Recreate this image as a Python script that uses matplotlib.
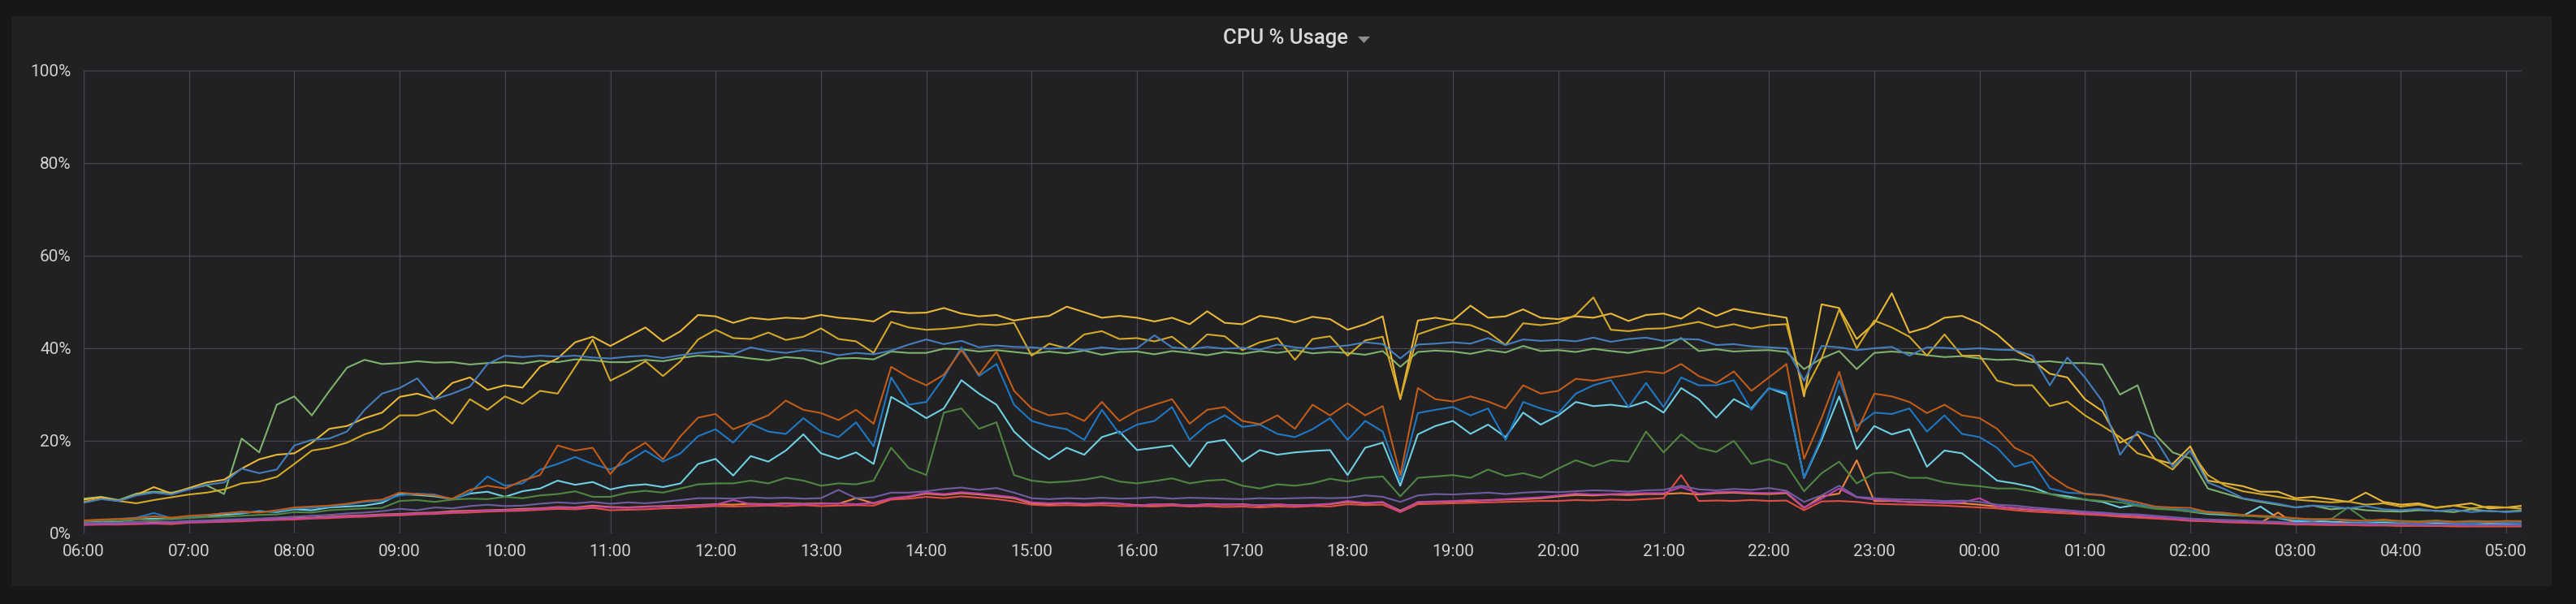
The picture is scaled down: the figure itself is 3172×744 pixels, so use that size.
import matplotlib
matplotlib.use('Agg')
import matplotlib.pyplot as plt
import numpy as np
from matplotlib.patches import Rectangle, Polygon

# CPU % per host, sampled every 10 min from 06:00 to 05:10 (one row = one hour)
yellow = [
    7.3, 7.8, 7.0, 8.3, 10.0, 8.6,
    9.8, 11.0, 11.6, 14.0, 16.0, 17.0,
    17.3, 19.6, 22.6, 23.2, 24.9, 26.1,
    29.5, 30.2, 29.0, 32.5, 33.7, 31.0,
    32.0, 31.5, 36.0, 37.8, 41.3, 42.5,
    40.5, 42.5, 44.5, 41.5, 43.7, 47.2,
    46.9, 45.5, 46.6, 46.2, 46.6, 46.4,
    47.2, 46.6, 46.3, 45.8, 48.0, 47.6,
    47.7, 48.7, 47.5, 46.9, 47.2, 46.0,
    46.6, 47.0, 49.0, 47.8, 46.6, 47.0,
    46.6, 45.8, 46.6, 45.2, 48.0, 45.5,
    45.2, 47.0, 46.5, 45.6, 46.8, 46.3,
    44.0, 45.2, 46.9, 29.0, 46.0, 46.6,
    46.0, 49.2, 46.6, 46.9, 48.4, 46.6,
    46.3, 46.9, 46.6, 47.5, 45.9, 47.2,
    47.5, 46.4, 48.7, 47.0, 48.5, 47.8,
    47.2, 46.6, 29.6, 49.5, 48.7, 42.0,
    45.4, 51.9, 43.4, 44.5, 46.6, 47.0,
    45.4, 43.0, 39.6, 37.5, 34.5, 33.7,
    29.0, 26.4, 19.6, 21.4, 16.0, 15.0,
    18.8, 11.4, 10.8, 10.2, 9.0, 9.0,
    7.6, 7.9, 7.4, 6.8, 8.8, 6.8,
    6.2, 6.5, 5.6, 6.0, 6.5, 5.4,
    5.6, 6.0,
]
dark_yellow = [
    6.8, 7.5, 7.0, 6.5, 7.2, 7.8,
    8.4, 8.8, 9.5, 10.8, 11.2, 12.2,
    15.0, 17.9, 18.5, 19.6, 21.4, 22.6,
    25.5, 25.5, 26.7, 23.7, 29.0, 26.7,
    29.6, 28.0, 30.8, 30.2, 36.0, 41.9,
    33.0, 34.9, 37.2, 34.0, 37.2, 41.9,
    44.0, 42.2, 42.0, 43.4, 41.8, 42.5,
    44.3, 42.0, 41.5, 39.0, 45.7, 44.5,
    44.0, 44.2, 44.6, 45.2, 45.0, 45.5,
    38.4, 41.0, 40.0, 43.0, 43.7, 42.0,
    42.2, 41.5, 42.5, 39.6, 43.0, 42.6,
    39.6, 41.3, 42.2, 37.5, 42.0, 42.6,
    38.4, 41.7, 42.5, 29.0, 43.0, 44.3,
    45.4, 45.0, 43.5, 40.7, 45.4, 45.0,
    45.5, 47.2, 51.0, 44.0, 43.7, 44.2,
    44.3, 45.0, 45.7, 44.5, 45.2, 44.3,
    45.0, 45.2, 30.5, 37.8, 48.4, 40.0,
    46.0, 44.5, 42.5, 38.4, 43.0, 38.4,
    38.4, 33.0, 32.0, 32.0, 27.5, 28.5,
    25.5, 23.2, 20.8, 17.3, 16.1, 13.8,
    17.9, 12.6, 10.3, 9.1, 8.5, 7.9,
    7.3, 7.0, 6.7, 6.9, 6.2, 6.5,
    5.8, 6.2, 5.5, 6.0, 5.4, 5.8,
    5.6, 5.3,
]
blue_top = [
    6.6, 7.4, 7.0, 8.2, 8.8, 8.4,
    9.5, 10.5, 11.0, 14.0, 13.0, 13.8,
    19.0, 20.2, 20.5, 22.0, 26.7, 30.2,
    31.4, 33.5, 29.0, 30.2, 31.7, 36.6,
    38.4, 38.1, 38.4, 38.2, 38.4, 38.0,
    37.8, 38.2, 38.4, 37.9, 38.5, 39.0,
    39.3, 38.7, 40.2, 39.4, 39.0, 39.6,
    39.3, 38.5, 39.0, 38.7, 39.5, 40.8,
    41.9, 40.9, 41.6, 40.2, 40.6, 40.3,
    40.2, 39.9, 40.1, 39.6, 40.2, 39.8,
    40.0, 42.8, 40.2, 39.8, 40.3, 39.9,
    40.1, 39.7, 40.8, 40.2, 39.9, 40.3,
    40.6, 41.3, 40.9, 37.8, 40.8, 41.0,
    41.3, 41.0, 42.2, 40.7, 41.9, 41.6,
    41.8, 41.5, 42.3, 41.4, 42.0, 42.3,
    41.6, 42.0, 41.9, 40.7, 40.9, 40.4,
    40.2, 40.0, 33.0, 40.5, 40.2, 39.6,
    40.0, 40.3, 38.4, 40.2, 40.1, 39.8,
    40.0, 39.7, 39.6, 38.4, 32.0, 38.0,
    33.7, 28.5, 17.0, 22.0, 20.5, 14.4,
    17.9, 11.0, 9.5, 7.6, 7.0, 6.4,
    5.6, 6.0, 5.8, 5.4, 5.9, 5.2,
    5.0, 5.3, 4.8, 5.1, 4.6, 4.9,
    4.6, 4.8,
]
green = [
    7.5, 7.9, 7.2, 8.6, 9.0, 8.8,
    9.6, 10.4, 8.5, 20.5, 17.5, 27.8,
    29.6, 25.5, 30.8, 35.8, 37.5, 36.6,
    36.8, 37.2, 36.9, 37.0, 36.5, 36.8,
    37.0, 36.7, 37.3, 37.0, 37.6, 37.4,
    37.0, 37.0, 37.5, 37.2, 37.9, 38.4,
    38.2, 38.3, 37.8, 37.4, 38.1, 37.8,
    36.6, 37.8, 37.9, 37.6, 39.3, 39.0,
    39.0, 39.9, 39.8, 39.3, 39.6, 39.2,
    38.8, 39.3, 38.9, 39.5, 38.6, 39.2,
    39.3, 38.7, 39.4, 39.0, 38.5, 39.2,
    38.8, 39.4, 39.0, 39.6, 38.9, 39.2,
    39.0, 38.6, 39.4, 36.0, 39.2, 39.5,
    39.3, 38.8, 39.6, 39.1, 40.5, 39.4,
    39.6, 39.2, 39.9, 39.4, 39.0, 39.7,
    40.2, 42.2, 39.4, 39.8, 39.3, 39.5,
    39.6, 39.2, 35.5, 37.8, 39.4, 35.5,
    39.0, 39.3, 39.0, 38.5, 38.1, 38.3,
    37.8, 37.5, 37.6, 37.0, 37.2, 36.8,
    36.8, 36.5, 30.0, 32.0, 21.4, 17.5,
    16.2, 9.7, 8.6, 7.5, 6.8, 6.2,
    5.6, 6.0, 5.2, 5.5, 5.0, 4.8,
    4.7, 5.0, 4.9, 4.6, 5.2, 4.8,
    4.7, 5.0,
]
dark_orange = [
    2.8, 3.0, 3.1, 3.3, 3.7, 3.4,
    3.8, 4.0, 4.3, 4.7, 4.5, 5.0,
    5.6, 5.8, 6.0, 6.4, 7.0, 7.3,
    8.8, 8.5, 8.2, 7.5, 9.4, 10.3,
    9.7, 11.4, 12.6, 19.0, 17.9, 18.5,
    12.8, 17.3, 19.6, 16.0, 21.0, 25.0,
    25.8, 22.5, 24.0, 25.5, 28.7, 26.7,
    26.0, 24.5, 26.7, 23.7, 36.0, 33.7,
    32.0, 34.3, 39.6, 34.3, 39.3, 30.8,
    27.0, 25.5, 26.0, 24.3, 28.4, 24.3,
    26.5, 27.8, 29.0, 23.7, 26.7, 27.3,
    24.3, 23.6, 25.5, 22.6, 27.8, 25.5,
    28.1, 25.5, 27.5, 12.6, 31.4, 29.0,
    28.5, 29.6, 28.5, 27.0, 32.0, 30.2,
    30.8, 33.4, 33.0, 33.7, 34.3, 35.0,
    34.6, 36.6, 34.0, 32.5, 35.0, 30.8,
    33.7, 36.6, 16.1, 24.9, 34.9, 22.0,
    30.2, 29.6, 28.4, 26.0, 27.8, 25.5,
    24.9, 22.6, 18.5, 16.7, 12.5, 10.0,
    8.5, 8.2, 7.5, 6.7, 5.8, 5.6,
    5.5, 4.6, 4.4, 4.0, 3.8, 3.6,
    3.3, 3.0, 3.1, 2.9, 2.7, 3.0,
    2.6, 2.4, 2.7, 2.5, 2.6, 2.5,
    2.7, 2.6,
]
blue = [
    2.7, 2.9, 3.1, 3.4, 4.4, 3.3,
    3.6, 3.9, 4.4, 4.5, 4.6, 4.8,
    5.4, 5.5, 5.8, 6.2, 6.8, 7.0,
    8.2, 8.6, 8.4, 7.3, 8.8, 12.3,
    10.3, 10.8, 13.8, 15.0, 16.5, 15.0,
    13.8, 15.5, 17.9, 15.5, 17.3, 21.0,
    22.5, 19.6, 23.7, 22.0, 21.5, 24.9,
    22.0, 20.8, 24.0, 18.8, 33.7, 27.8,
    28.4, 33.7, 40.2, 34.0, 36.6, 27.8,
    24.3, 23.2, 22.5, 20.2, 26.7, 21.5,
    23.5, 24.3, 27.3, 20.2, 23.5, 25.5,
    23.0, 23.5, 21.5, 20.8, 22.5, 24.9,
    20.2, 24.3, 22.0, 11.4, 26.0, 26.7,
    27.3, 25.5, 27.0, 20.2, 28.4, 27.0,
    26.0, 30.2, 32.0, 33.1, 27.3, 32.5,
    27.3, 33.7, 32.0, 32.0, 33.1, 26.7,
    31.4, 30.5, 12.0, 20.8, 33.1, 23.2,
    26.1, 25.8, 27.0, 22.0, 25.5, 21.5,
    20.8, 18.5, 14.4, 15.5, 9.7, 8.8,
    8.6, 8.3, 7.2, 6.2, 5.6, 5.4,
    5.0, 4.7, 4.4, 3.9, 3.6, 3.4,
    3.0, 2.8, 3.1, 2.6, 2.5, 2.7,
    2.4, 2.2, 2.5, 2.3, 2.2, 2.4,
    2.3, 2.2,
]
cyan = [
    2.5, 2.7, 2.6, 3.0, 3.2, 3.1,
    3.4, 3.7, 4.0, 4.3, 4.8, 4.6,
    5.2, 5.0, 5.6, 5.8, 6.0, 6.6,
    8.5, 8.3, 8.0, 7.4, 8.6, 9.0,
    7.9, 9.1, 9.7, 11.4, 10.5, 11.1,
    9.5, 10.3, 10.6, 10.0, 10.8, 15.0,
    16.1, 12.5, 16.7, 15.5, 17.9, 21.4,
    17.3, 16.1, 17.5, 15.0, 29.5, 27.3,
    24.9, 27.0, 33.1, 30.2, 27.8, 22.0,
    18.5, 16.0, 18.5, 17.0, 20.8, 22.0,
    18.0, 18.5, 19.0, 14.4, 19.6, 20.2,
    15.5, 18.0, 17.0, 17.5, 17.8, 18.0,
    12.6, 18.5, 19.6, 10.3, 21.4, 23.2,
    24.3, 21.5, 23.5, 20.8, 26.1, 23.5,
    25.5, 28.4, 27.5, 27.8, 27.3, 28.5,
    26.1, 31.4, 29.0, 25.0, 29.0, 27.0,
    31.4, 30.0, 12.0, 20.2, 29.6, 18.2,
    23.2, 21.4, 22.5, 14.4, 17.9, 17.3,
    14.4, 11.4, 10.8, 10.0, 8.5, 8.0,
    7.3, 6.8, 5.6, 6.2, 5.6, 5.2,
    4.7, 4.2, 4.0, 3.8, 5.8, 3.3,
    2.6, 2.7, 2.5, 2.4, 2.3, 2.4,
    2.3, 2.2, 2.3, 2.1, 2.2, 2.1,
    2.1, 2.2,
]
dark_green = [
    2.6, 2.8, 2.7, 3.0, 2.9, 3.2,
    3.3, 3.5, 3.6, 3.8, 4.0, 4.1,
    4.6, 4.5, 5.0, 5.2, 5.4, 5.5,
    7.0, 7.2, 6.8, 7.3, 7.5, 7.4,
    7.9, 7.6, 8.2, 8.5, 9.1, 7.9,
    7.9, 8.8, 9.2, 8.8, 9.7, 10.6,
    10.8, 10.8, 11.4, 10.8, 12.0, 11.4,
    10.3, 10.8, 10.6, 11.4, 18.5, 14.1,
    12.6, 26.1, 27.0, 22.6, 24.0, 12.6,
    11.4, 11.0, 11.2, 11.6, 12.3, 11.2,
    10.8, 11.3, 11.9, 10.8, 11.4, 11.6,
    10.3, 9.7, 10.6, 10.3, 10.8, 11.8,
    11.2, 12.0, 12.3, 8.0, 12.0, 12.3,
    12.6, 12.0, 13.8, 12.4, 13.0, 12.0,
    14.0, 15.8, 14.5, 15.8, 15.5, 22.0,
    17.5, 21.4, 18.5, 17.6, 20.0, 15.0,
    16.0, 14.8, 9.1, 13.0, 15.5, 10.8,
    13.0, 13.2, 12.0, 12.0, 11.0, 10.5,
    10.2, 9.7, 9.7, 9.1, 8.5, 7.6,
    7.3, 7.0, 6.7, 5.9, 5.3, 5.1,
    4.7, 4.4, 4.2, 3.8, 3.6, 3.5,
    3.2, 3.1, 3.0, 5.6, 2.9, 2.7,
    2.7, 2.6, 2.8, 2.5, 2.7, 2.6,
    2.6, 2.7,
]
purple = [
    2.2, 2.3, 2.3, 2.5, 2.6, 2.5,
    2.7, 2.8, 3.0, 3.1, 3.2, 3.4,
    3.6, 3.8, 4.0, 4.3, 4.5, 4.8,
    5.3, 5.0, 5.6, 5.4, 5.9, 6.2,
    5.9, 6.0, 6.4, 6.7, 6.5, 6.8,
    6.4, 6.7, 6.5, 6.8, 7.2, 7.6,
    7.6, 7.5, 7.8, 7.6, 7.7, 7.5,
    7.6, 9.4, 7.6, 7.8, 8.8, 8.8,
    9.1, 9.6, 9.9, 9.4, 9.8, 8.8,
    7.6, 7.4, 7.6, 7.5, 7.7, 7.5,
    7.6, 7.8, 7.5, 7.7, 7.6, 7.5,
    7.4, 7.6, 7.5, 7.6, 7.7, 7.6,
    7.7, 8.2, 7.9, 6.8, 8.2, 8.5,
    8.4, 8.6, 8.8, 8.5, 8.8, 9.0,
    8.9, 9.1, 9.3, 9.2, 9.0, 9.3,
    9.4, 10.3, 9.5, 9.3, 9.6, 9.4,
    9.8, 9.2, 6.8, 8.2, 10.3, 7.9,
    7.6, 7.4, 7.3, 7.2, 7.0, 7.1,
    6.8, 6.2, 6.0, 5.6, 5.3, 5.0,
    4.7, 4.5, 4.2, 4.1, 3.8, 3.5,
    3.2, 3.0, 2.9, 2.8, 2.6, 2.5,
    2.3, 2.3, 2.2, 2.1, 2.1, 2.0,
    2.0, 1.9, 1.9, 1.9, 1.8, 1.8,
    1.8, 1.8,
]
pink = [
    1.9, 2.0, 2.0, 2.2, 2.1, 2.3,
    2.4, 2.5, 2.6, 2.8, 2.9, 3.0,
    3.2, 3.3, 3.5, 3.7, 3.8, 4.0,
    4.1, 4.3, 4.4, 4.6, 4.8, 4.9,
    5.0, 5.1, 5.3, 5.6, 5.5, 5.8,
    5.6, 5.5, 5.7, 5.8, 5.9, 6.0,
    6.2, 7.2, 6.3, 6.2, 6.4, 6.3,
    6.4, 6.5, 6.3, 6.6, 7.6, 8.0,
    8.8, 8.5, 8.9, 8.6, 8.2, 7.8,
    6.7, 6.5, 6.6, 6.4, 6.6, 6.5,
    6.0, 6.3, 6.2, 6.1, 6.2, 6.3,
    6.2, 6.1, 6.3, 6.0, 6.2, 6.4,
    7.0, 6.6, 6.8, 4.7, 6.8, 6.9,
    7.0, 7.2, 7.1, 7.4, 7.6, 7.8,
    8.2, 8.6, 8.4, 8.5, 8.6, 8.7,
    8.7, 10.0, 8.6, 8.9, 9.0, 8.8,
    8.7, 8.9, 5.6, 7.5, 9.7, 7.8,
    7.3, 7.1, 6.7, 6.8, 6.6, 6.7,
    7.6, 5.8, 5.5, 5.2, 5.0, 4.8,
    4.4, 4.2, 4.0, 3.8, 3.5, 3.2,
    2.9, 2.8, 2.6, 2.5, 2.4, 2.3,
    2.1, 2.1, 2.0, 2.0, 1.9, 1.9,
    1.9, 1.8, 1.8, 1.8, 1.7, 1.8,
    1.8, 1.7,
]
orange = [
    2.0, 2.1, 2.2, 2.1, 2.3, 2.4,
    2.5, 2.6, 2.7, 2.9, 3.0, 3.1,
    3.3, 3.4, 3.6, 3.8, 3.9, 4.1,
    4.2, 4.4, 4.5, 4.8, 4.9, 5.0,
    5.1, 5.3, 5.4, 5.7, 5.6, 6.0,
    5.7, 5.6, 5.8, 5.9, 6.0, 6.1,
    6.3, 6.2, 6.4, 6.3, 6.5, 6.4,
    6.5, 6.4, 7.6, 6.5, 7.5, 7.9,
    8.6, 8.3, 8.7, 8.4, 8.0, 7.6,
    6.5, 6.3, 6.5, 6.3, 6.5, 6.4,
    6.1, 6.2, 6.3, 6.0, 6.3, 6.2,
    6.3, 6.0, 6.2, 6.1, 6.1, 6.3,
    6.8, 6.5, 6.7, 4.9, 6.7, 6.8,
    6.9, 7.0, 7.2, 7.3, 7.4, 7.6,
    8.0, 8.3, 8.2, 8.4, 8.3, 8.5,
    8.5, 8.7, 8.4, 8.7, 8.8, 8.6,
    8.5, 8.7, 5.5, 8.0, 8.6, 15.8,
    7.0, 7.0, 6.8, 6.7, 6.6, 6.5,
    6.2, 5.8, 5.4, 5.1, 4.9, 4.7,
    4.3, 4.1, 3.9, 3.7, 3.4, 3.1,
    2.8, 2.7, 2.5, 2.4, 2.3, 4.5,
    2.0, 1.9, 1.9, 2.6, 1.8, 1.8,
    1.7, 1.8, 1.7, 1.7, 1.6, 1.7,
    1.7, 1.6,
]
red = [
    1.8, 1.9, 1.9, 2.0, 2.1, 2.0,
    2.3, 2.4, 2.5, 2.6, 2.8, 2.9,
    3.0, 3.2, 3.3, 3.5, 3.6, 3.8,
    3.9, 4.1, 4.2, 4.4, 4.5, 4.7,
    4.8, 4.9, 5.1, 5.3, 5.2, 5.5,
    5.0, 5.1, 5.2, 5.4, 5.5, 5.7,
    5.9, 5.8, 5.9, 6.0, 5.9, 6.1,
    5.9, 6.0, 6.1, 6.0, 7.3, 7.5,
    7.9, 7.6, 8.0, 7.7, 7.4, 6.9,
    6.2, 6.0, 6.1, 6.0, 6.1, 5.9,
    5.9, 5.8, 6.0, 5.8, 5.9, 5.7,
    5.8, 5.6, 5.8, 5.7, 5.9, 5.8,
    6.3, 6.1, 6.2, 4.6, 6.3, 6.4,
    6.5, 6.6, 6.7, 6.8, 6.9, 7.0,
    7.0, 7.2, 7.1, 7.3, 7.2, 7.4,
    7.6, 12.6, 7.0, 7.1, 7.0, 7.2,
    7.0, 7.1, 5.0, 6.9, 7.0, 6.8,
    6.4, 6.3, 6.2, 6.1, 6.0, 5.8,
    5.6, 5.4, 5.0, 4.7, 4.5, 4.3,
    4.1, 3.9, 3.6, 3.4, 3.2, 3.0,
    2.7, 2.6, 2.4, 2.3, 2.2, 2.1,
    1.9, 1.9, 1.8, 1.8, 1.7, 1.7,
    1.6, 1.6, 1.6, 1.5, 1.5, 1.5,
    1.5, 1.5,
]

# drawn in this order, later ones on top
series = [
    (green, '#7EB26D'),
    (yellow, '#EAB839'),
    (cyan, '#6ED0E0'),
    (orange, '#EF843C'),
    (red, '#E24D42'),
    (blue, '#1F78C1'),
    (pink, '#BA43A9'),
    (purple, '#705DA0'),
    (dark_green, '#508642'),
    (dark_yellow, '#D5A928'),
    (blue_top, '#447EBC'),
    (dark_orange, '#C15C17'),
]

hour_labels = ['06:00', '07:00', '08:00', '09:00', '10:00', '11:00', '12:00',
               '13:00', '14:00', '15:00', '16:00', '17:00', '18:00', '19:00',
               '20:00', '21:00', '22:00', '23:00', '00:00', '01:00', '02:00',
               '03:00', '04:00', '05:00']
y_ticks = [0, 20, 40, 60, 80, 100]

W, H = 3172, 744
plt.rcParams['font.family'] = ['Roboto', 'DejaVu Sans']

fig = plt.figure(figsize=(W / 100, H / 100), dpi=100, facecolor='#161719')

# panel background (behind the axes)
fig.patches.append(Rectangle((14 / W, 1 - 722 / H), (3142 - 14) / W, (722 - 20) / H,
                             transform=fig.transFigure, facecolor='#212124',
                             edgecolor='none', zorder=-10))

ax = fig.add_axes([103 / W, 87 / H, (3105 - 103) / W, (657 - 87) / H])
ax.set_facecolor('none')

for values, color in series:
    x = np.arange(len(values)) / 6.0
    ax.plot(x, values, color=color, lw=1.5, solid_joinstyle='round')

ax.set_xlim(0, (3105 - 103) / 129.7)
ax.set_ylim(0, 100)
ax.set_xticks(np.arange(len(hour_labels)))
ax.set_xticklabels(hour_labels)
ax.set_yticks(y_ticks)
ax.set_yticklabels(['{}%'.format(v) for v in y_ticks])

for s in ax.spines.values():
    s.set_visible(False)
ax.grid(True, color='#48484c', lw=0.9)
ax.set_axisbelow(True)
ax.tick_params(axis='both', length=0, labelsize=15, colors='#cfd0d1')
ax.tick_params(axis='y', pad=11)
ax.tick_params(axis='x', pad=9.5)

# title with dropdown caret
fig.text(1583 / W, 1 - 54 / H, 'CPU % Usage', ha='center', va='baseline',
         fontsize=18.5, color='#d8d9da', fontweight='medium')
fig.patches.append(Polygon([(1672 / W, 1 - 45 / H), (1687 / W, 1 - 45 / H),
                            (1679.5 / W, 1 - 53 / H)], closed=True,
                           transform=fig.transFigure, facecolor='#8e8e8e',
                           edgecolor='none'))

fig.savefig('out.png', dpi=100, facecolor=fig.get_facecolor())
